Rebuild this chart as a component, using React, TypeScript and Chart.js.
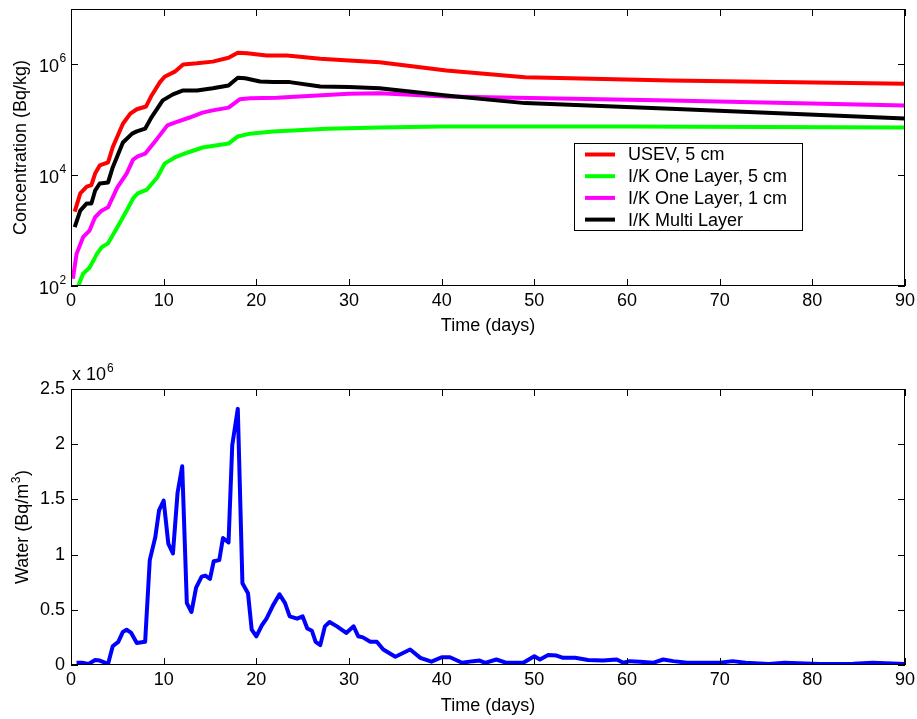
import React, { useEffect, useRef } from 'react';
import { Chart, registerables } from 'chart.js';

Chart.register(...registerables);

const FONT = '"Liberation Sans", Arial, Helvetica, sans-serif';

// ---- Top panel: concentration (Bq/kg) vs time (days) ----
const redDays = [0.4, 1, 1.7, 2.2, 2.6, 3.1, 4, 4.5, 5.6, 6.4, 7.1, 8.1, 8.7, 9.6, 10.1, 11.2, 12.1, 13.6, 15.3, 17, 18, 19, 21.1, 23.3, 26.9, 30, 33.3, 40.5, 49, 64.7, 90];
const redValues = [2200, 4700, 6200, 6600, 10700, 15000, 17000, 32000, 85000, 129000, 155000, 174000, 275000, 479000, 600000, 740000, 1000000, 1047000, 1122000, 1318000, 1622000, 1585000, 1445000, 1445000, 1259000, 1175000, 1096000, 776000, 589000, 513000, 447000];

const greenDays = [0.5, 0.8, 1.3, 2, 2.8, 3.3, 4, 5, 6, 6.7, 7.2, 8.2, 9.3, 10.1, 11.2, 12.6, 14.2, 17, 18, 19.3, 21.8, 27.6, 33.3, 40, 60, 90];
const greenValues = [60, 102, 166, 214, 380, 500, 589, 1150, 2290, 3800, 4680, 5500, 9100, 16200, 20900, 25700, 31600, 37200, 50100, 56200, 61700, 69200, 72400, 75900, 75900, 72400];

const magentaDays = [0.2, 0.6, 1.3, 2, 2.6, 3.3, 4, 5, 6, 6.7, 7.2, 8, 9.3, 10.4, 11.2, 12.8, 14.2, 15.3, 17, 18.2, 19.3, 22.2, 30, 33.3, 40.5, 64.7, 90];
const magentaValues = [135, 380, 760, 1000, 1740, 2290, 2630, 6030, 10700, 19100, 21900, 24500, 45700, 79400, 89100, 110000, 135000, 148000, 166000, 234000, 245000, 251000, 295000, 302000, 263000, 224000, 182000];

const blackDays = [0.4, 1, 1.7, 2.2, 2.6, 3.1, 4, 4.5, 5.6, 6.6, 7.1, 8, 8.7, 9.9, 11, 12.1, 13.6, 15.3, 17, 18, 18.8, 20.4, 21.8, 23.6, 26.9, 30, 33.3, 40.5, 49, 64.7, 90];
const blackValues = [1150, 2290, 3090, 3090, 5250, 7080, 7410, 13800, 38900, 56200, 61700, 69200, 112000, 224000, 288000, 339000, 339000, 372000, 417000, 575000, 562000, 490000, 479000, 479000, 398000, 390000, 372000, 275000, 200000, 158000, 105000];

const seriesLabels = ['USEV, 5 cm', 'I/K One Layer, 5 cm', 'I/K One Layer, 1 cm', 'I/K Multi Layer'];
const seriesColors = ['#ff0000', '#00ff00', '#ff00ff', '#000000'];
const seriesDays = [redDays, greenDays, magentaDays, blackDays];
const seriesValues = [redValues, greenValues, magentaValues, blackValues];

// ---- Bottom panel: water (Bq/m3) vs time (days) ----
const waterDays = [0.6, 1.2, 1.9, 2.6, 3.1, 4, 4.5, 5.1, 5.6, 6, 6.5, 7.1, 8, 8.5, 9.1, 9.5, 10, 10.5, 11, 11.5, 12, 12.5, 13, 13.5, 14.1, 14.5, 15, 15.4, 16, 16.4, 17, 17.4, 18, 18.5, 19.1, 19.5, 20, 20.6, 21.1, 21.8, 22.5, 23.1, 23.6, 24.4, 25, 25.5, 26, 26.4, 26.9, 27.4, 27.9, 28.7, 29.7, 30.5, 31, 31.5, 32.3, 33, 33.7, 35, 36.6, 37.7, 38.9, 40, 40.9, 42.2, 43.4, 44.1, 44.7, 45.9, 47, 48.8, 50, 50.6, 51.5, 52.4, 53.1, 54.4, 55.8, 57.4, 58.9, 59.6, 60.3, 61.4, 62.8, 63.9, 65, 66.5, 70, 71.4, 72.8, 75.3, 77, 80.8, 84.4, 86.5, 90];
const waterValues = [20000, 20000, 10000, 45000, 40000, 10000, 170000, 210000, 300000, 320000, 290000, 200000, 210000, 950000, 1160000, 1400000, 1490000, 1100000, 1010000, 1560000, 1800000, 560000, 480000, 700000, 800000, 810000, 780000, 940000, 950000, 1150000, 1110000, 1990000, 2320000, 740000, 650000, 320000, 260000, 360000, 420000, 540000, 640000, 560000, 440000, 420000, 440000, 330000, 310000, 210000, 180000, 350000, 390000, 350000, 290000, 350000, 260000, 250000, 210000, 210000, 140000, 75000, 140000, 65000, 30000, 70000, 70000, 20000, 35000, 40000, 20000, 50000, 20000, 20000, 80000, 50000, 90000, 85000, 65000, 65000, 45000, 40000, 50000, 20000, 35000, 30000, 20000, 50000, 35000, 20000, 20000, 35000, 20000, 10000, 20000, 10000, 12000, 20000, 10000];

// ---- Ticks and labels ----
const timeTicks = [0, 10, 20, 30, 40, 50, 60, 70, 80, 90];
const timeTickLabels = ['0', '10', '20', '30', '40', '50', '60', '70', '80', '90'];
const concTicks = [100, 10000, 1000000];
const concTickBases = ['10', '10', '10'];
const concTickExponents = ['2', '4', '6'];
const waterTicks = [0, 500000, 1000000, 1500000, 2000000, 2500000];
const waterTickLabels = ['0', '0.5', '1', '1.5', '2', '2.5'];
const waterMultiplierBase = 'x 10';
const waterMultiplierExp = '6';
const waterTitleParts = ['Water (Bq/m', '3', ')'];

const TICK_LEN = 7;

const matlabBox = {
  id: 'matlabBox',
  afterDatasetsDraw(chart: any) {
    const { ctx, chartArea: a, scales } = chart;
    const xs = scales.x;
    const ys = scales.y;
    ctx.save();
    ctx.strokeStyle = '#000';
    ctx.lineWidth = 1;
    ctx.beginPath();
    xs.ticks.forEach((t: any) => {
      const px = Math.round(xs.getPixelForValue(t.value)) + 0.5;
      ctx.moveTo(px, a.bottom);
      ctx.lineTo(px, a.bottom - TICK_LEN);
      ctx.moveTo(px, a.top);
      ctx.lineTo(px, a.top + TICK_LEN);
    });
    ys.ticks.forEach((t: any) => {
      const py = Math.round(ys.getPixelForValue(t.value)) + 0.5;
      ctx.moveTo(a.left, py);
      ctx.lineTo(a.left + TICK_LEN, py);
      ctx.moveTo(a.right, py);
      ctx.lineTo(a.right - TICK_LEN, py);
    });
    ctx.stroke();
    ctx.strokeRect(a.left + 0.5, a.top + 0.5, a.right - a.left - 1, a.bottom - a.top - 1);
    ctx.restore();
  },
};

const concLabels = {
  id: 'concLabels',
  afterDraw(chart: any) {
    const { ctx, chartArea: a, scales } = chart;
    const ys = scales.y;
    ctx.save();
    ctx.fillStyle = '#000';
    ctx.textBaseline = 'alphabetic';
    concTicks.forEach((v, i) => {
      const py = ys.getPixelForValue(v);
      const xEnd = a.left - 12;
      ctx.font = `18px ${FONT}`;
      ctx.textAlign = 'right';
      ctx.fillText(concTickBases[i], xEnd, py + 7.5);
      ctx.font = `12px ${FONT}`;
      ctx.textAlign = 'left';
      ctx.fillText(concTickExponents[i], xEnd + 0.5, py - 2);
    });
    ctx.restore();
  },
};

const legendBox = {
  id: 'legendBox',
  afterDraw(chart: any) {
    const { ctx, chartArea: a } = chart;
    const left = a.left + 503;
    const top = a.top + 134;
    const w = 228;
    const h = 87;
    ctx.save();
    ctx.fillStyle = '#fff';
    ctx.fillRect(left, top, w, h);
    ctx.strokeStyle = '#000';
    ctx.lineWidth = 1;
    ctx.strokeRect(left + 0.5, top + 0.5, w, h);
    ctx.font = `18px ${FONT}`;
    ctx.textAlign = 'left';
    ctx.textBaseline = 'middle';
    seriesLabels.forEach((label, i) => {
      const cy = top + 11.5 + i * 21.7;
      ctx.strokeStyle = seriesColors[i];
      ctx.lineWidth = 4;
      ctx.beginPath();
      ctx.moveTo(left + 11, cy);
      ctx.lineTo(left + 41, cy);
      ctx.stroke();
      ctx.fillStyle = '#000';
      ctx.fillText(label, left + 54, cy + 1);
    });
    ctx.restore();
  },
};

const waterDecor = {
  id: 'waterDecor',
  afterDraw(chart: any) {
    const { ctx, chartArea: a } = chart;
    ctx.save();
    ctx.fillStyle = '#000';
    ctx.textBaseline = 'alphabetic';
    ctx.textAlign = 'left';
    ctx.font = `18px ${FONT}`;
    const x0 = a.left + 1;
    ctx.fillText(waterMultiplierBase, x0, a.top - 9);
    const w = ctx.measureText(waterMultiplierBase).width;
    ctx.font = `12px ${FONT}`;
    ctx.fillText(waterMultiplierExp, x0 + w + 1, a.top - 17);

    ctx.font = `18px ${FONT}`;
    const w1 = ctx.measureText(waterTitleParts[0]).width;
    const w3 = ctx.measureText(waterTitleParts[2]).width;
    ctx.font = `12px ${FONT}`;
    const w2 = ctx.measureText(waterTitleParts[1]).width;
    const total = w1 + w2 + w3 + 1;
    ctx.translate(21, (a.top + a.bottom) / 2);
    ctx.rotate(-Math.PI / 2);
    let cx = -total / 2;
    ctx.font = `18px ${FONT}`;
    ctx.fillText(waterTitleParts[0], cx, 7);
    cx += w1 + 0.5;
    ctx.font = `12px ${FONT}`;
    ctx.fillText(waterTitleParts[1], cx, -1);
    cx += w2 + 0.5;
    ctx.font = `18px ${FONT}`;
    ctx.fillText(waterTitleParts[2], cx, 7);
    ctx.restore();
  },
};

const tickFont = { family: FONT, size: 18 };

function xScale(titlePadBottom: number, height: number) {
  return {
    type: 'linear' as const,
    min: 0,
    max: 90,
    afterBuildTicks: (s: any) => {
      s.ticks = timeTicks.map((v) => ({ value: v }));
    },
    ticks: {
      callback: (_v: any, i: number) => timeTickLabels[i],
      font: tickFont,
      color: '#000',
      padding: 4,
      maxRotation: 0,
      autoSkip: false,
    },
    grid: { display: false, drawTicks: false },
    border: { display: false },
    title: {
      display: true,
      text: 'Time (days)',
      font: tickFont,
      color: '#000',
      padding: { top: 0, bottom: titlePadBottom },
    },
    afterFit: (s: any) => {
      s.height = height;
      s.paddingLeft = 0;
      s.paddingRight = 0;
    },
  };
}

export default function App() {
  const topRef = useRef<HTMLCanvasElement>(null);
  const botRef = useRef<HTMLCanvasElement>(null);

  useEffect(() => {
    const top = new Chart(topRef.current as HTMLCanvasElement, {
      type: 'line',
      data: {
        datasets: seriesLabels.map((label, i) => ({
          label,
          data: seriesDays[i].map((d, j) => ({ x: d, y: seriesValues[i][j] })),
          borderColor: seriesColors[i],
          backgroundColor: seriesColors[i],
          borderWidth: 4,
          borderJoinStyle: 'round' as const,
          borderCapStyle: 'butt' as const,
          pointRadius: 0,
          fill: false,
          tension: 0,
          order: 3 - i,
        })),
      },
      options: {
        animation: false,
        responsive: false,
        maintainAspectRatio: false,
        layout: { padding: { left: 0, right: 12, top: 9, bottom: 0 } },
        plugins: { legend: { display: false }, tooltip: { enabled: false } },
        scales: {
          x: xScale(13, 64) as any,
          y: {
            type: 'logarithmic',
            min: 100,
            max: 10000000,
            afterBuildTicks: (s: any) => {
              s.ticks = concTicks.map((v) => ({ value: v }));
            },
            ticks: { display: false },
            grid: { display: false, drawTicks: false },
            border: { display: false },
            title: {
              display: true,
              text: 'Concentration (Bq/kg)',
              font: tickFont,
              color: '#000',
              padding: { top: 10, bottom: 0 },
            },
            afterFit: (s: any) => {
              s.width = 71;
              s.paddingTop = 0;
              s.paddingBottom = 0;
            },
          } as any,
        },
      },
      plugins: [matlabBox, concLabels, legendBox],
    });

    const bot = new Chart(botRef.current as HTMLCanvasElement, {
      type: 'line',
      data: {
        datasets: [
          {
            label: 'Water',
            data: waterDays.map((d, j) => ({ x: d, y: waterValues[j] })),
            borderColor: '#0000ff',
            backgroundColor: '#0000ff',
            borderWidth: 4,
            borderJoinStyle: 'round' as const,
            pointRadius: 0,
            fill: false,
            tension: 0,
          },
        ],
      },
      options: {
        animation: false,
        responsive: false,
        maintainAspectRatio: false,
        layout: { padding: { left: 0, right: 12, top: 39, bottom: 0 } },
        plugins: { legend: { display: false }, tooltip: { enabled: false } },
        scales: {
          x: xScale(2, 54) as any,
          y: {
            type: 'linear',
            min: 0,
            max: 2500000,
            afterBuildTicks: (s: any) => {
              s.ticks = waterTicks.map((v) => ({ value: v }));
            },
            ticks: {
              callback: (_v: any, i: number) => waterTickLabels[i],
              font: tickFont,
              color: '#000',
              padding: 6,
              autoSkip: false,
            },
            grid: { display: false, drawTicks: false },
            border: { display: false },
            title: { display: false },
            afterFit: (s: any) => {
              s.width = 71;
              s.paddingTop = 0;
              s.paddingBottom = 0;
            },
          } as any,
        },
      },
      plugins: [matlabBox, waterDecor],
    });

    return () => {
      top.destroy();
      bot.destroy();
    };
  }, []);

  return (
    <div style={{ position: 'absolute', left: 0, top: 0, width: 917, height: 719, background: '#fff' }}>
      <canvas
        ref={topRef}
        width={917}
        height={350}
        style={{ position: 'absolute', left: 0, top: 0, width: 917, height: 350 }}
      />
      <canvas
        ref={botRef}
        width={917}
        height={369}
        style={{ position: 'absolute', left: 0, top: 350, width: 917, height: 369 }}
      />
    </div>
  );
}
